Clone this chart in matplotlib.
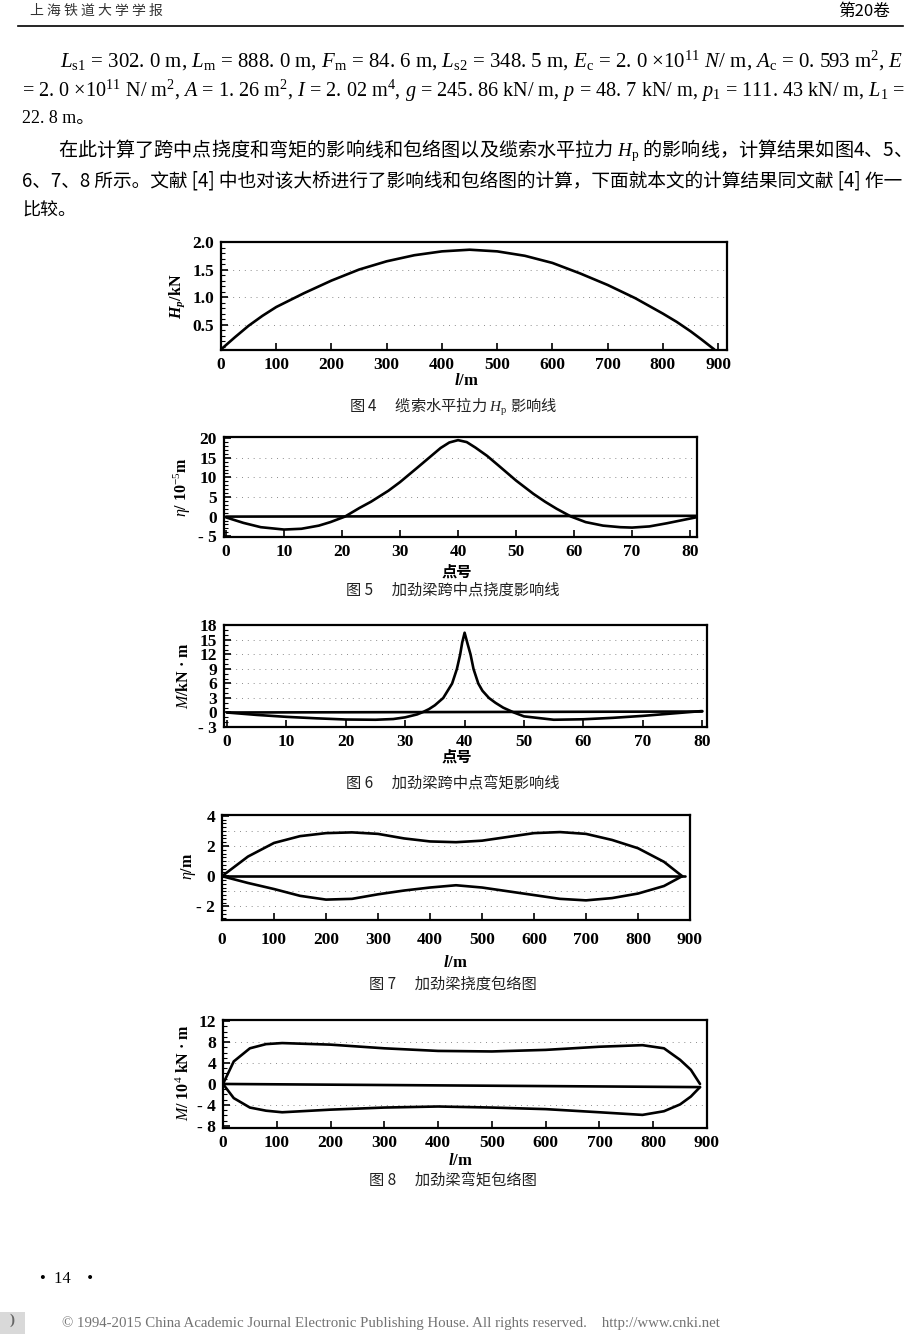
import matplotlib
matplotlib.use('Agg')
import matplotlib.pyplot as plt
from matplotlib.ticker import MultipleLocator
from matplotlib.patches import Rectangle
from matplotlib.lines import Line2D

plt.rcParams['mathtext.fontset'] = 'custom'
plt.rcParams['mathtext.rm'] = 'Liberation Serif'
plt.rcParams['mathtext.it'] = 'Liberation Serif:italic'
plt.rcParams['mathtext.bf'] = 'Liberation Serif:bold'
plt.rcParams['mathtext.bfit'] = 'Liberation Serif:italic:bold'

CJK = ['Noto Sans CJK SC', 'DejaVu Sans']
SERIF = ['Liberation Serif', 'Noto Sans CJK SC', 'DejaVu Serif']

W, H = 920, 1335

# 图4 缆索水平拉力 Hp 影响线
hp_l = [0, 25, 50, 75, 100, 150, 200, 250, 300, 350, 400, 450, 500, 550, 600, 650, 700, 750, 800, 825, 850, 870, 893]
hp_v = [0.05, 0.27, 0.48, 0.66, 0.82, 1.07, 1.3, 1.5, 1.65, 1.76, 1.83, 1.86, 1.83, 1.75, 1.62, 1.43, 1.22, 0.98, 0.7, 0.55, 0.38, 0.23, 0.05]

# 图5 加劲梁跨中点挠度影响线
eta_n = [0, 3, 6, 10, 13, 16, 18, 20.5, 23, 25, 28, 30, 33, 35, 37, 38.5, 40, 41.5, 43, 45, 47, 50, 53, 55, 57, 59.5, 62, 65, 68, 70, 73, 76, 79, 81]
eta_v = [-0.2, -1.6, -2.7, -3.3, -3.1, -2.3, -1.4, 0, 2.2, 3.8, 6.6, 8.8, 12.5, 15.0, 17.5, 18.9, 19.5, 19.0, 17.6, 15.5, 13.0, 9.2, 5.8, 3.8, 2.0, 0, -1.4, -2.3, -2.7, -2.8, -2.5, -1.7, -0.8, -0.2]
eta_base_n = [0, 81]
eta_base_v = [0.0, 0.2]

# 图6 加劲梁跨中点弯矩影响线
m_n = [0, 5, 10, 15, 20, 25, 28, 30, 32, 33, 34, 35, 36.4, 37.9, 38.7, 39.25, 39.6, 40, 40.5, 41, 41.5, 42.3, 43, 44.1, 45.2, 46.5, 48.3, 50, 55, 60, 65, 70, 75, 80]
m_v = [0, -0.5, -0.9, -1.2, -1.45, -1.5, -1.35, -1.0, -0.4, 0.1, 0.7, 1.5, 3, 6, 9, 12, 14.5, 16.5, 14.2, 12, 9, 6, 4.5, 3, 2, 1, 0, -0.8, -1.5, -1.4, -1.1, -0.7, -0.2, 0.3]
m_base_n = [0, 80]
m_base_v = [0.0, 0.2]

# 图7 加劲梁挠度包络图
env_l = [0, 50, 100, 150, 200, 250, 300, 350, 400, 450, 500, 550, 600, 650, 700, 750, 800, 850, 885]
env_up = [0, 1.3, 2.2, 2.65, 2.85, 2.9, 2.8, 2.5, 2.3, 2.25, 2.35, 2.6, 2.85, 2.92, 2.8, 2.4, 1.85, 0.95, 0]
env_low = [0, -0.45, -0.85, -1.3, -1.55, -1.5, -1.2, -0.95, -0.75, -0.6, -0.75, -1.0, -1.25, -1.5, -1.6, -1.45, -1.15, -0.65, 0]

# 图8 加劲梁弯矩包络图
mom_l = [0, 20, 50, 80, 110, 200, 300, 400, 500, 600, 700, 780, 820, 850, 870, 887]
mom_up = [0, 4.3, 6.8, 7.6, 7.8, 7.5, 6.8, 6.3, 6.2, 6.5, 7.1, 7.4, 6.8, 4.6, 2.7, 0]
mom_low = [0, -2.7, -4.5, -5.1, -5.4, -4.9, -4.5, -4.3, -4.5, -4.8, -5.4, -5.9, -5.2, -3.9, -2.4, -0.6]
mom_base_l = [0, 887]
mom_base_v = [0.0, -0.6]

fig = plt.figure(figsize=(W / 100, H / 100), dpi=100)
fig.patch.set_facecolor('white')


def px(x, y):
    return x / W, 1 - y / H


def panel(box, xlim, ylim, xt, xtl, yt, ytl, yminor, dots, xpad=5):
    l, t, r, b = box
    ax = fig.add_axes([l / W, 1 - b / H, (r - l) / W, (b - t) / H])
    ax.set_xlim(xlim)
    ax.set_ylim(ylim)
    ax.set_xticks(xt)
    ax.set_xticklabels(xtl)
    ax.set_yticks(yt)
    ax.set_yticklabels(ytl)
    ax.yaxis.set_minor_locator(MultipleLocator(yminor))
    ax.tick_params(which='both', direction='in', top=False, right=False, width=1.2)
    ax.tick_params(which='major', length=5, pad=5, labelsize=12.5)
    ax.tick_params(axis='x', which='major', pad=xpad)
    ax.tick_params(which='minor', length=3, width=0.8)
    for lab in ax.get_xticklabels() + ax.get_yticklabels():
        lab.set_fontweight('bold')
        lab.set_family(SERIF)
    for s in ax.spines.values():
        s.set_linewidth(1.6)
    for d in dots:
        ax.axhline(d, ls=(0, (1, 5)), color='0.55', lw=0.7, zorder=0)
    return ax


def line(ax, x, y):
    ax.plot(x, y, color='black', lw=1.9, solid_capstyle='round', solid_joinstyle='round')


# 图4
ax4 = panel((221, 242, 727, 350), (0, 916), (0.04, 2.0),
            range(0, 901, 100), [str(v) for v in range(0, 901, 100)],
            [0.5, 1.0, 1.5, 2.0], ['0.5', '1.0', '1.5', '2.0'], 0.1, [0.5, 1.0, 1.5])
line(ax4, hp_l, hp_v)

# 图5
ax5 = panel((224, 437, 697, 537), (-0.35, 81.2), (-5.2, 20.3),
            range(0, 81, 10), [str(v) for v in range(0, 81, 10)],
            [-5, 0, 5, 10, 15, 20], ['- 5', '0', '5', '10', '15', '20'], 1, [5, 10, 15])
line(ax5, eta_base_n, eta_base_v)
line(ax5, eta_n, eta_v)

# 图6
ax6 = panel((224, 625, 707, 727), (-0.5, 80.8), (-2.9, 18.1),
            range(0, 81, 10), [str(v) for v in range(0, 81, 10)],
            [-3, 0, 3, 6, 9, 12, 15, 18], ['- 3', '0', '3', '6', '9', '12', '15', '18'], 1, [3, 6, 9, 12, 15])
line(ax6, m_base_n, m_base_v)
line(ax6, m_n, m_v)

# 图7
ax7 = panel((222, 815, 690, 920), (0, 900), (-2.9, 4.05),
            range(0, 901, 100), [str(v) for v in range(0, 901, 100)],
            [-2, 0, 2, 4], ['- 2', '0', '2', '4'], 0.25, [-2, -1, 1, 2, 3], xpad=9)
line(ax7, [0, 890], [0, 0])
line(ax7, env_l, env_up)
line(ax7, env_l, env_low)

# 图8
ax8 = panel((223, 1020, 707, 1128), (0, 898), (-8.4, 12.2),
            range(0, 901, 100), [str(v) for v in range(0, 901, 100)],
            [-8, -4, 0, 4, 8, 12], ['- 8', '- 4', '0', '4', '8', '12'], 1, [-4, 4, 8])
line(ax8, mom_base_l, mom_base_v)
line(ax8, mom_l, mom_up)
line(ax8, mom_l, mom_low)

# axis titles
fig.text(*px(177, 296), r'$\mathbfit{H_p}$/kN', rotation=90, ha='center', va='center',
         fontsize=11.5, fontweight='bold', family=SERIF)
fig.text(*px(182, 487), r'$\eta$/ 10$^{-5}$m', rotation=90, ha='center', va='center',
         fontsize=11.5, fontweight='bold', family=SERIF)
fig.text(*px(184, 676), r'$M$/kN · m', rotation=90, ha='center', va='center',
         fontsize=11.5, fontweight='bold', family=SERIF)
fig.text(*px(189, 866), r'$\eta$/m', rotation=90, ha='center', va='center',
         fontsize=11.5, fontweight='bold', family=SERIF)
fig.text(*px(184, 1073), r'$M$/ 10$^4$ kN · m', rotation=90, ha='center', va='center',
         fontsize=11.5, fontweight='bold', family=SERIF)

fig.text(*px(466, 381), r'$\mathbfit{l}$/m', ha='center', va='center', fontsize=12,
         fontweight='bold', family=SERIF)
fig.text(*px(457, 572), '点号', ha='center', va='center', fontsize=11, fontweight='bold', family=CJK)
fig.text(*px(457, 757), '点号', ha='center', va='center', fontsize=11, fontweight='bold', family=CJK)
fig.text(*px(455, 963), r'$\mathbfit{l}$/m', ha='center', va='center', fontsize=12,
         fontweight='bold', family=SERIF)
fig.text(*px(460, 1161), r'$\mathbfit{l}$/m', ha='center', va='center', fontsize=12,
         fontweight='bold', family=SERIF)

# captions
captions = [
    (407, '图 4　 缆索水平拉力 $H_{\\rm p}$ 影响线'),
    (590, '图 5　 加劲梁跨中点挠度影响线'),
    (784, '图 6　 加劲梁跨中点弯矩影响线'),
    (984, '图 7　 加劲梁挠度包络图'),
    (1181, '图 8　 加劲梁弯矩包络图'),
]
for y, s in captions:
    fig.text(*px(453, y), s, ha='center', va='center', fontsize=11, family=CJK, color='#222222')

# header
fig.text(*px(30, 11), '上 海 铁 道 大 学 学 报', ha='left', va='center', fontsize=10,
         family=CJK, color='#333333')
fig.text(*px(890, 11), '第20卷', ha='right', va='center', fontsize=12, family=CJK)
fig.add_artist(Line2D([18 / W, 903 / W], [1 - 26 / H, 1 - 26 / H], color='black', lw=1.2))

# body text
r = fig.canvas.get_renderer()


def body(x, y, s, fam, size, right=None):
    t = fig.text(*px(x, y), s, ha='left', va='center', fontsize=size, family=fam)
    if right is not None:
        bb = t.get_window_extent(r)
        t.set_fontsize(size * (right - x) / bb.width)
    return t


l1 = (r'$L_{\rm s1}$ = 302. 0 m, $L_{\rm m}$ = 888. 0 m, $F_{\rm m}$ = 84. 6 m, '
      r'$L_{\rm s2}$ = 348. 5 m, $E_{\rm c}$ = 2. 0 ×10$^{11}$ $N/$ m, $A_{\rm c}$ = 0. 593 m$^2$, $E$')
l2 = (r'= 2. 0 ×10$^{11}$ N/ m$^2$, $A$ = 1. 26 m$^2$, $I$ = 2. 02 m$^4$, $g$ = 245. 86 kN/ m, '
      r'$p$ = 48. 7 kN/ m, $p_1$ = 111. 43 kN/ m, $L_1$ =')
body(60, 61, l1, SERIF, 13, right=903)
body(22, 91, l2, SERIF, 13, right=903)
body(22, 119, '22. 8 m。', SERIF, 13)
body(58, 151, '在此计算了跨中点挠度和弯矩的影响线和包络图以及缆索水平拉力 $H_{\\rm p}$ 的影响线，计算结果如图4、5、',
     CJK, 13, right=903)
body(22, 181, '6、7、8 所示。文献 [4] 中也对该大桥进行了影响线和包络图的计算，下面就本文的计算结果同文献 [4] 作一',
     CJK, 13, right=903)
body(22, 211, '比较。', CJK, 13)

# footer
fig.text(*px(40, 1279), '•  14    •', ha='left', va='center', fontsize=12, family=SERIF)
fig.add_artist(Rectangle((0, 1 - 1334 / H), 25 / W, 22 / H, transform=fig.transFigure,
                         facecolor='0.85', edgecolor='none'))
fig.text(*px(12, 1320), ')', ha='center', va='center', fontsize=11, color='0.4', family=SERIF,
         fontweight='bold')
cp = fig.text(*px(62, 1323), '© 1994-2015 China Academic Journal Electronic Publishing House. All rights reserved.'
              '    http://www.cnki.net', ha='left', va='center', fontsize=10.5, family=SERIF, color='0.45')
bb = cp.get_window_extent(r)
cp.set_fontsize(10.5 * (717 - 62) / bb.width)

fig.savefig('out.png', dpi=100, facecolor='white')
